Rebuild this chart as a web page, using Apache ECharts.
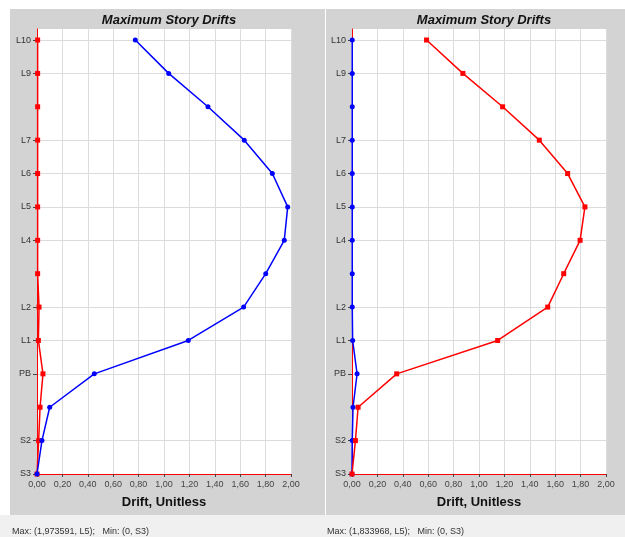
<!DOCTYPE html>
<html>
<head>
<meta charset="utf-8">
<style>
html,body{margin:0;padding:0;background:#fff;}
#chart{width:625px;height:537px;}
</style>
<script src="https://cdn.jsdelivr.net/npm/echarts@6/dist/echarts.min.js"></script>
</head>
<body>
<div id="chart"></div>
<script>
// ---- data ----
var storyNames = ['S3','S2','S1','PB','L1','L2','L3','L4','L5','L6','L7','L8','L9','L10'];
var labeledStories = ['S3','S2','PB','L1','L2','L4','L5','L6','L7','L9','L10'];
var xTicks = [0,0.2,0.4,0.6,0.8,1.0,1.2,1.4,1.6,1.8,2.0];
var leftBlue  = [0, 0.039, 0.100, 0.451, 1.191, 1.627, 1.801, 1.947, 1.974, 1.853, 1.632, 1.346, 1.037, 0.774];
var leftRed   = [0, 0.013, 0.024, 0.047, 0.011, 0.016, 0.005, 0.005, 0.005, 0.005, 0.005, 0.005, 0.005, 0.005];
var rightRed  = [0, 0.027, 0.048, 0.352, 1.147, 1.541, 1.667, 1.796, 1.834, 1.698, 1.475, 1.186, 0.873, 0.587];
var rightBlue = [0, 0.002, 0.008, 0.040, 0.005, 0.002, 0.002, 0.002, 0.002, 0.002, 0.002, 0.002, 0.002, 0.002];
var titles = ['Maximum Story Drifts','Maximum Story Drifts'];
var axisName = 'Drift, Unitless';
var statusTexts = ['Max: (1,973591, L5);   Min: (0, S3)','Max: (1,833968, L5);   Min: (0, S3)'];

// ---- build ----
var FONT = '"Liberation Sans", Arial, sans-serif';
function pairs(vals){ return vals.map(function(v,i){ return [v,i]; }); }
var labeledIdx = labeledStories.map(function(n){ return storyNames.indexOf(n); });

function xAxis(gi){
  return {
    type:'value', gridIndex:gi, min:xTicks[0], max:xTicks[xTicks.length-1], interval:0.2,
    name: axisName, nameLocation:'middle', nameGap:22,
    nameTextStyle:{fontFamily:FONT, fontSize:13, fontWeight:'bold', color:'#111'},
    axisLine:{show:true, onZero:false, lineStyle:{color:'#ff0000', width:1}},
    axisTick:{show:true, length:3, lineStyle:{color:'#444'}},
    axisLabel:{fontFamily:FONT, fontSize:9, color:'#444', margin:6,
      formatter:function(v){ return v.toFixed(2).replace('.',','); }},
    splitLine:{show:true, lineStyle:{color:'#dcdcdc', width:1}}
  };
}
function yAxis(gi){
  return {
    type:'value', gridIndex:gi, min:0, max:13.33,
    axisLine:{show:true, onZero:false, lineStyle:{color:'#ff0000', width:1}},
    axisTick:{show:true, length:4, lineStyle:{color:'#444'}, customValues: labeledIdx},
    axisLabel:{fontFamily:FONT, fontSize:9, color:'#333', margin:6, customValues: labeledIdx,
      formatter:function(v){ return storyNames[Math.round(v)] || ''; }},
    splitLine:{show:true, lineStyle:{color:'#dcdcdc', width:1}}
  };
}
function lineSeries(gi, vals, color, symbol, z){
  return {
    type:'line', xAxisIndex:gi, yAxisIndex:gi, data:pairs(vals),
    symbol:symbol, symbolSize:5, showSymbol:true, z:z, animation:false,
    lineStyle:{color:color, width:1.5}, itemStyle:{color:color}
  };
}

var chart = echarts.init(document.getElementById('chart'), null, {renderer:'canvas'});
chart.setOption({
  animation:false,
  backgroundColor:'#ffffff',
  graphic:[
    {type:'rect', z:-10, silent:true, shape:{x:0,y:515,width:625,height:22}, style:{fill:'#f0f0f0'}},
    {type:'rect', z:-10, silent:true, shape:{x:10,y:9,width:315,height:506}, style:{fill:'#d3d3d3'}},
    {type:'rect', z:-10, silent:true, shape:{x:326,y:9,width:299,height:506}, style:{fill:'#d3d3d3'}},
    {type:'text', silent:true, x:12, y:532, style:{text:statusTexts[0], fontFamily:FONT, fontSize:9, fill:'#333', verticalAlign:'middle'}},
    {type:'text', silent:true, x:327, y:532, style:{text:statusTexts[1], fontFamily:FONT, fontSize:9, fill:'#333', verticalAlign:'middle'}}
  ],
  title:[
    {text:titles[0], left:164, top:9, textAlign:'center', textStyle:{fontFamily:FONT, fontSize:13, fontWeight:'bold', fontStyle:'italic', color:'#111'}},
    {text:titles[1], left:479, top:9, textAlign:'center', textStyle:{fontFamily:FONT, fontSize:13, fontWeight:'bold', fontStyle:'italic', color:'#111'}}
  ],
  grid:[
    {left:37, right:334, top:29, bottom:63, show:true, backgroundColor:'#ffffff', borderWidth:0, containLabel:false},
    {left:352, right:19, top:29, bottom:63, show:true, backgroundColor:'#ffffff', borderWidth:0, containLabel:false}
  ],
  xAxis:[xAxis(0), xAxis(1)],
  yAxis:[yAxis(0), yAxis(1)],
  series:[
    lineSeries(0, leftRed, '#ff0000', 'rect', 3),
    lineSeries(0, leftBlue, '#0000ff', 'circle', 4),
    lineSeries(1, rightBlue, '#0000ff', 'circle', 3),
    lineSeries(1, rightRed, '#ff0000', 'rect', 4)
  ]
});
</script>
</body>
</html>
